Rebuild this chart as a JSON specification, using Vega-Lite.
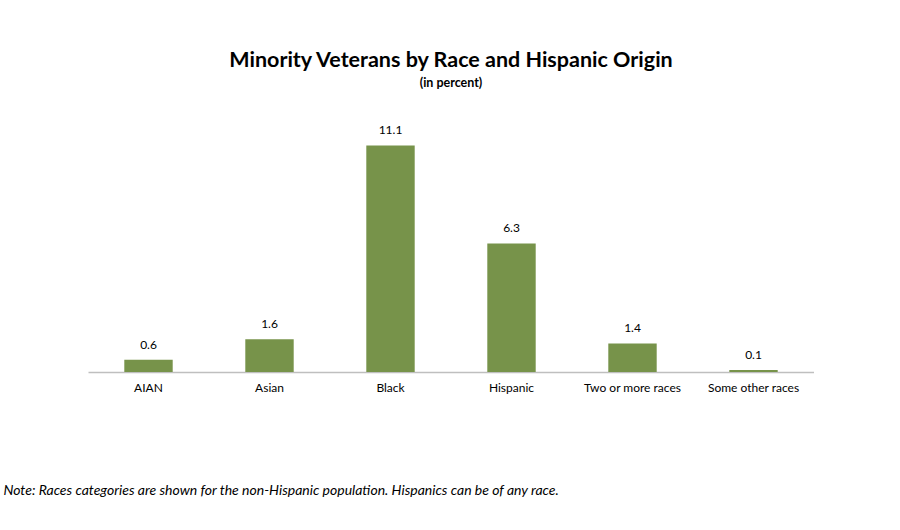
{
  "$schema": "https://vega.github.io/schema/vega-lite/v6.json",
  "width": 726,
  "height": 245,
  "padding": {"left": 3, "top": 50, "right": 0, "bottom": 0},
  "background": "white",
  "title": {
    "text": "Minority Veterans by Race and Hispanic Origin",
    "subtitle": "(in percent)",
    "font": "Lato",
    "fontSize": 21.5,
    "fontWeight": "bold",
    "color": "black",
    "subtitleFont": "Lato",
    "subtitleFontSize": 12.5,
    "subtitleFontWeight": "bold",
    "subtitleColor": "black",
    "subtitlePadding": 5,
    "anchor": "middle",
    "offset": 35
  },
  "config": {"view": {"stroke": null}},
  "data": {
    "values": [
      {"race": "AIAN", "pct": 0.6},
      {"race": "Asian", "pct": 1.6},
      {"race": "Black", "pct": 11.1},
      {"race": "Hispanic", "pct": 6.3},
      {"race": "Two or more races", "pct": 1.4},
      {"race": "Some other races", "pct": 0.1}
    ]
  },
  "encoding": {
    "x": {
      "field": "race",
      "type": "nominal",
      "sort": null,
      "scale": {"paddingInner": 0.6, "paddingOuter": 0.3},
      "axis": {
        "title": "Note:  Races categories are shown for the non-Hispanic population.  Hispanics can be of any race.",
        "titleFont": "Lato",
        "titleFontSize": 14,
        "titleFontWeight": "normal",
        "titleFontStyle": "italic",
        "titleColor": "black",
        "titleAnchor": "start",
        "titleAlign": "left",
        "titleBaseline": "alphabetic",
        "titleX": -85,
        "titleY": 122,
        "labelAngle": 0,
        "labelFont": "Lato",
        "labelFontSize": 12,
        "labelColor": "black",
        "labelPadding": 10,
        "ticks": false,
        "domainColor": "#bfbfbf",
        "domainWidth": 1.5
      }
    },
    "y": {
      "field": "pct",
      "type": "quantitative",
      "scale": {"domain": [0, 12]},
      "axis": null
    }
  },
  "layer": [
    {"mark": {"type": "bar", "color": "#77934a"}},
    {
      "mark": {"type": "text", "baseline": "bottom", "dy": -8, "font": "Lato", "fontSize": 12, "color": "black"},
      "encoding": {"text": {"field": "pct", "type": "quantitative", "format": ".1f"}}
    }
  ]
}
